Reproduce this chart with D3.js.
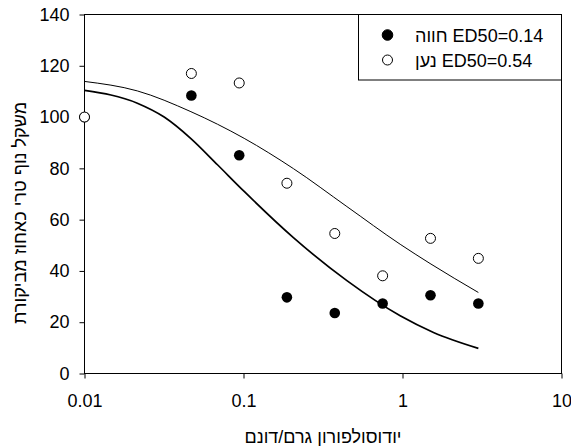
<!DOCTYPE html>
<html>
<head>
<meta charset="utf-8">
<script src="https://cdn.jsdelivr.net/npm/d3@7"></script>
<style>
  body { margin: 0; background: #fff; }
  svg text { font-family: "Liberation Sans", Arial, sans-serif; fill: #000; }
</style>
</head>
<body>
<div id="chart"></div>
<script>
// dose (g/dunam) of the measured points
const doses = [0.01, 0.047, 0.094, 0.1875, 0.375, 0.75, 1.5, 3];
// measured fresh weight, % of control
const chavaValues = [100, 108.4, 85.1, 29.7, 23.6, 27.3, 30.5, 27.3];
const naanValues = [100, 117, 113.3, 74.2, 54.6, 38.1, 52.7, 44.9];

// fitted curves, points
const chavaFitDoses = [0.01, 0.0215, 0.0317, 0.0467, 0.0686, 0.101, 0.206, 0.447, 0.967, 1.566, 3];
const chavaFit = [110.4, 105.4, 100.0, 91.6, 81.4, 71.0, 53.0, 36.2, 22.5, 16.0, 9.8];
const naanFitDoses = [0.01, 0.0215, 0.0467, 0.101, 0.206, 0.447, 0.967, 1.49, 3];
const naanFit = [113.9, 110.2, 102.1, 91.7, 79.9, 65.1, 50.4, 42.9, 31.6];

const xTicks = [0.01, 0.1, 1, 10];
const yTicks = [0, 20, 40, 60, 80, 100, 120, 140];
const legendLabels = ['חווה ED50=0.14', 'נען ED50=0.54'];

const width = 571, height = 446;
const svg = d3.select('#chart')
    .append('svg')
    .attr('width', width)
    .attr('height', height);

const x = d3.scaleLog().domain([0.01, 10]).range([84.5, 561.5]);
const y = d3.scaleLinear().domain([0, 140]).range([373.5, 14.5]);

// axes
const xAxis = svg.append('g')
    .attr('transform', `translate(0,${y(0)})`)
    .call(d3.axisBottom(x).tickValues(xTicks).tickFormat(d => String(d))
        .tickSize(5).tickSizeOuter(0).tickPadding(16));
const yAxis = svg.append('g')
    .attr('transform', `translate(${x(0.01)},0)`)
    .call(d3.axisLeft(y).tickValues(yTicks).tickSize(5).tickSizeOuter(0).tickPadding(10));

[xAxis, yAxis].forEach(g => {
    g.select('.domain').remove();
    g.selectAll('line').attr('stroke', '#000');
    g.selectAll('text').attr('font-size', '18px').attr('font-family', '"Liberation Sans", Arial, sans-serif');
});

// frame
svg.append('rect')
    .attr('x', x(0.01))
    .attr('y', y(140))
    .attr('width', x(10) - x(0.01))
    .attr('height', y(0) - y(140))
    .attr('fill', 'none')
    .attr('stroke', '#000')
    .attr('stroke-width', 1);

// fitted curves
const line = d3.line()
    .x(d => x(d[0]))
    .y(d => y(d[1]))
    .curve(d3.curveMonotoneX);

svg.append('path')
    .datum(naanFitDoses.map((d, i) => [d, naanFit[i]]))
    .attr('d', line)
    .attr('fill', 'none')
    .attr('stroke', '#000')
    .attr('stroke-width', 1);

svg.append('path')
    .datum(chavaFitDoses.map((d, i) => [d, chavaFit[i]]))
    .attr('d', line)
    .attr('fill', 'none')
    .attr('stroke', '#000')
    .attr('stroke-width', 1.7);

// points
svg.selectAll('.chava')
    .data(doses.map((d, i) => [d, chavaValues[i]]))
    .enter()
    .append('circle')
    .attr('class', 'chava')
    .attr('cx', d => x(d[0]))
    .attr('cy', d => y(d[1]))
    .attr('r', 5.3)
    .attr('fill', '#000');

svg.selectAll('.naan')
    .data(doses.map((d, i) => [d, naanValues[i]]))
    .enter()
    .append('circle')
    .attr('class', 'naan')
    .attr('cx', d => x(d[0]))
    .attr('cy', d => y(d[1]))
    .attr('r', 5)
    .attr('fill', '#fff')
    .attr('stroke', '#000')
    .attr('stroke-width', 1);

// legend
const legend = svg.append('g');
legend.append('rect')
    .attr('x', 358.5)
    .attr('y', 14.5)
    .attr('width', 203)
    .attr('height', 65.5)
    .attr('fill', '#fff')
    .attr('stroke', '#000');

legendLabels.forEach((label, i) => {
    const ly = 35 + i * 25;
    legend.append('circle')
        .attr('cx', 387.5)
        .attr('cy', ly)
        .attr('r', i === 0 ? 5.3 : 5)
        .attr('fill', i === 0 ? '#000' : '#fff')
        .attr('stroke', '#000');
    legend.append('text')
        .attr('x', 415)
        .attr('y', ly + 6.5)
        .attr('font-size', '18px')
        .attr('direction', 'ltr')
        .text(label);
});

// axis titles
svg.append('text')
    .attr('x', (x(0.01) + x(10)) / 2)
    .attr('y', 443)
    .attr('text-anchor', 'middle')
    .attr('font-size', '18px')
    .text('יודוסולפורון גרם/דונם');

svg.append('text')
    .attr('transform', 'translate(26,213) rotate(-90)')
    .attr('text-anchor', 'middle')
    .attr('font-size', '18px')
    .text('משקל נוף טרי כאחוז מביקורת');
</script>
</body>
</html>
